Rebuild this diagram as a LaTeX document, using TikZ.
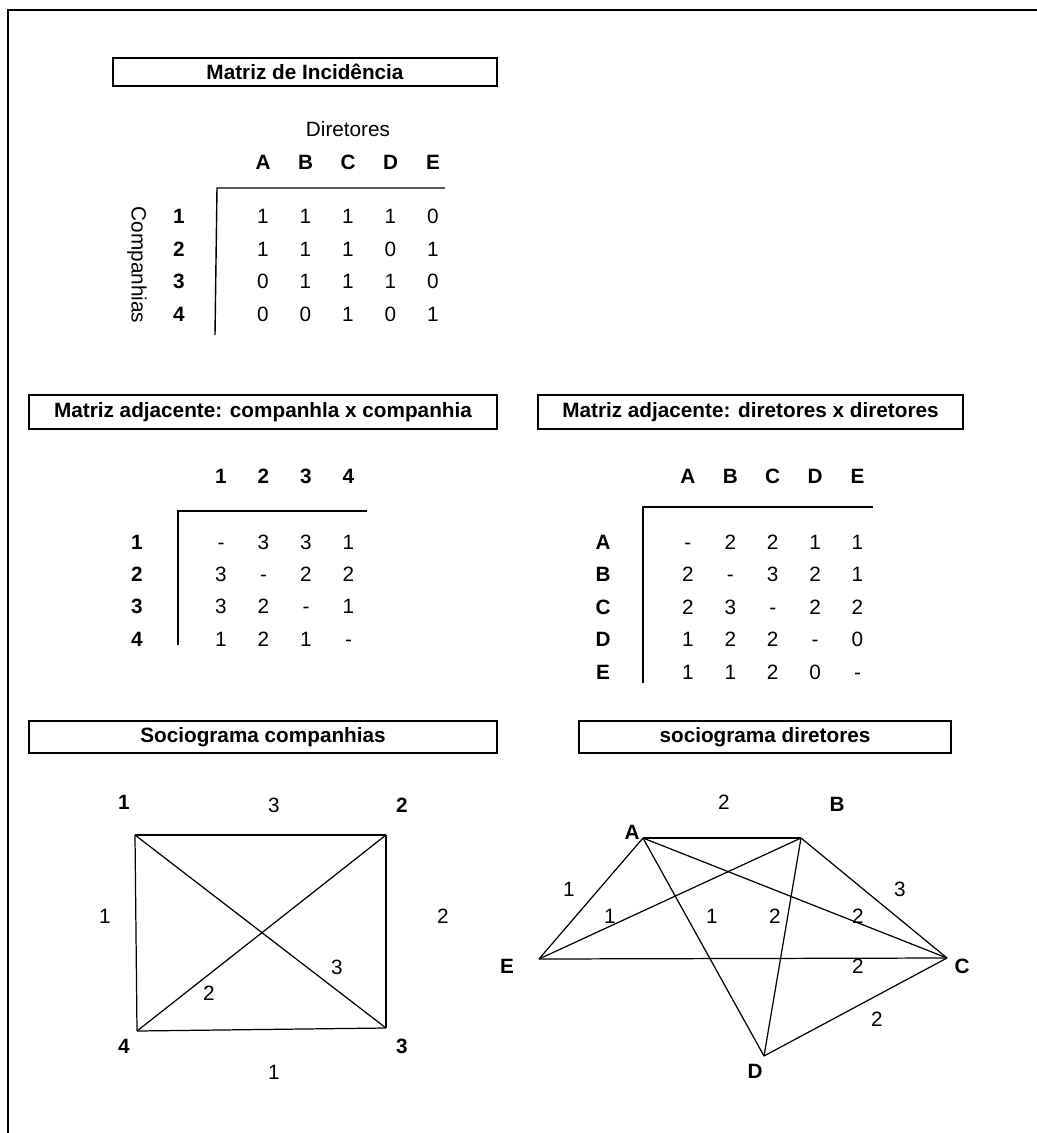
\documentclass[tikz,border=0pt]{standalone}
\usepackage{fontspec}
\setmainfont{Liberation Sans}
\newcommand\sz{\fontsize{11.8}{14}\selectfont}
\tikzset{
  titlebox/.style={draw, line width=1.1pt, font=\sz\bfseries, inner sep=0pt, minimum height=0.6cm},
  cell/.style={inner sep=0pt, font=\sz, text height=0.72em, text depth=0pt},
  head/.style={inner sep=0pt, font=\sz\bfseries, text height=0.72em, text depth=0pt},
  rule/.style={line width=0.8pt},
  edge/.style={line width=0.7pt},
}

\begin{document}
\begin{tikzpicture}[x=0.02cm, y=-0.02cm]
        \useasboundingbox (0,0) rectangle (1037,1133);
        % Frame
        \draw[line width=1.1pt] (1037,10) -- (8,10) -- (8,1133);

        % Incidence matrix
        \node[titlebox, minimum width=7.68cm, minimum height=0.56cm] (tinc) at (305,72) {Matriz de Incidência};
        \node[cell] (dir) at (348,130) {Diretores};
        \node[inner sep=0pt, font=\sz, rotate=-90] (comp) at (137,265) {Companhias};
        \foreach \h [count=\c] in {A,B,C,D,E}
          \node[head] (inc-h\c) at (220.5+42.5*\c,163) {\h};
        \foreach \vals [count=\r] in {{1,1,1,1,0},{1,1,1,0,1},{0,1,1,1,0},{0,0,1,0,1}} {
          \node[head] (inc-r\r) at (179,184.3+32.7*\r) {\r};
          \foreach \v [count=\c] in \vals
            \node[cell] (inc-\r-\c) at (220.5+42.5*\c,184.3+32.7*\r) {\v};
        }
        \draw[rule] (445,188) -- (217,188) -- (215,335);

        % Adjacency: companies
        \node[titlebox, minimum width=9.36cm, minimum height=0.68cm] (tcomp) at (263,412) {Matriz adjacente: companhla x companhia};
        \foreach \h in {1,2,3,4}
          \node[head] (ac-h\h) at (178.5+42.5*\h,477) {\h};
        \foreach \vals [count=\r] in {{-,3,3,1},{3,-,2,2},{3,2,-,1},{1,2,1,-}} {
          \node[head] (ac-r\r) at (137,510.6+32.3*\r) {\r};
          \foreach \v [count=\c] in \vals
            \node[cell] (ac-\r-\c) at (178.5+42.5*\c,510.6+32.3*\r) {\v};
        }
        \draw[rule] (367,511) -- (178,511) -- (178,645);

        % Adjacency: directors
        \node[titlebox, minimum width=8.5cm, minimum height=0.68cm] (tdir) at (750.5,412) {Matriz adjacente: diretores x diretores};
        \foreach \h [count=\c] in {A,B,C,D,E}
          \node[head] (ad-h\c) at (645.5+42.4*\c,477) {\h};
        \foreach \vals/\lab [count=\r] in {{-,2,2,1,1}/A,{2,-,3,2,1}/B,{2,3,-,2,2}/C,{1,2,2,-,0}/D,{1,1,2,0,-}/E} {
          \node[head] (ad-r\r) at (603,510.5+32.5*\r) {\lab};
          \foreach \v [count=\c] in \vals
            \node[cell] (ad-\r-\c) at (645.5+42.4*\c,510.5+32.5*\r) {\v};
        }
        \draw[rule] (873,507) -- (643,507) -- (643,683);

        % Sociogram: companies
        \node[titlebox, minimum width=9.36cm, minimum height=0.64cm] (tsc) at (263,737) {Sociograma companhias};
        \coordinate (c1) at (135,835);
        \coordinate (c2) at (386,835);
        \coordinate (c3) at (386,1028);
        \coordinate (c4) at (137,1031);
        \draw[edge] (c1) -- (c2);
        \draw[edge] (c2) -- (c3);
        \draw[edge] (c3) -- (c4);
        \draw[edge] (c4) -- (c1);
        \draw[edge] (c1) -- (c3);
        \draw[edge] (c2) -- (c4);
        \node[head] (n1) at (124,803) {1};
        \node[head] (n2) at (402,806) {2};
        \node[head] (n3) at (402,1047) {3};
        \node[head] (n4) at (124,1047) {4};
        \node[cell] (w12) at (274,806) {3};
        \node[cell] (w14) at (105,917) {1};
        \node[cell] (w23) at (443,917) {2};
        \node[cell] (w13) at (337,968) {3};
        \node[cell] (w24) at (209,994) {2};
        \node[cell] (w34) at (274,1073) {1};

        % Sociogram: directors
        \node[titlebox, minimum width=7.44cm, minimum height=0.64cm] (tsd) at (765,737) {sociograma diretores};
        \coordinate (A) at (643,838);
        \coordinate (B) at (801,838);
        \coordinate (C) at (947,958);
        \coordinate (D) at (764,1056);
        \coordinate (E) at (539,959);
        \draw[edge] (A) -- (B);
        \draw[edge] (A) -- (E);
        \draw[edge] (A) -- (C);
        \draw[edge] (A) -- (D);
        \draw[edge] (B) -- (E);
        \draw[edge] (B) -- (C);
        \draw[edge] (B) -- (D);
        \draw[edge] (E) -- (C);
        \draw[edge] (D) -- (C);
        \node[head] (lA) at (632,833) {A};
        \node[head] (lB) at (837,805) {B};
        \node[head] (lC) at (962,967) {C};
        \node[head] (lD) at (755,1072) {D};
        \node[head] (lE) at (507,967) {E};
        \node[cell] (wAB) at (724,803) {2};
        \node[cell] (wAE) at (569,890) {1};
        \node[cell] (wBE) at (610,917) {1};
        \node[cell] (wAD) at (712,917) {1};
        \node[cell] (wBD) at (775,917) {2};
        \node[cell] (wAC) at (858,917) {2};
        \node[cell] (wBC) at (900,890) {3};
        \node[cell] (wEC) at (858,967) {2};
        \node[cell] (wDC) at (877,1020) {2};
    \end{tikzpicture}
\end{document}
